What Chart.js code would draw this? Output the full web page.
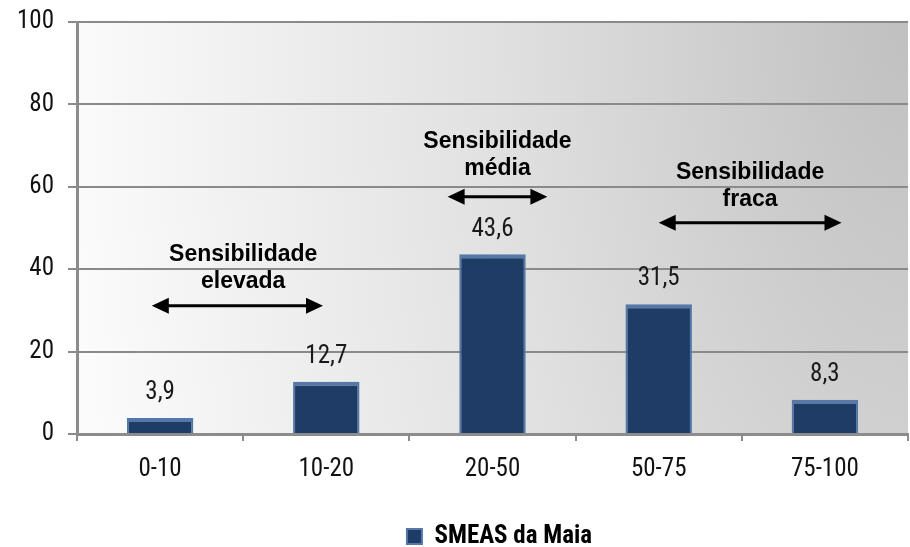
<!DOCTYPE html>
<html>
<head>
<meta charset="utf-8">
<script src="https://cdn.jsdelivr.net/npm/chart.js@4.4.1/dist/chart.umd.min.js"></script>
<style>
  html, body { margin: 0; padding: 0; background: #fff; }
  #wrap { width: 910px; height: 547px; }
</style>
</head>
<body>
<div id="wrap"><canvas id="chart"></canvas></div>
<script>
// categories and values (percent)
const categories = ['0-10', '10-20', '20-50', '50-75', '75-100'];
const seriesName = 'SMEAS da Maia';
const values = [3.9, 12.7, 43.6, 31.5, 8.3];
const yTicks = [0, 20, 40, 60, 80, 100];

// sensitivity notes, in category index / value units
const noteLines = [['Sensibilidade', 'elevada'], ['Sensibilidade', 'média'], ['Sensibilidade', 'fraca']];
const noteX     = [0.5, 2.03, 3.55];
const noteY     = [43.5, 70.9, 63.4];
const arrowFrom = [-0.05, 1.73, 3.0];
const arrowTo   = [0.98, 2.33, 4.10];
const arrowY    = [31.1, 57.6, 51.3];

const NARROW = '"Liberation Sans Narrow", "Arial Narrow", "Roboto Condensed", sans-serif';
const BAR_COLOR = '#1f3c66';

// gray corner (top right) fading to white, stretched vertically
const plotBackground = {
  id: 'plotBackground',
  beforeDraw(chart) {
    const { ctx, chartArea: a } = chart;
    ctx.save();
    ctx.fillStyle = '#fafafa';
    ctx.fillRect(a.left, a.top, a.width, a.height);
    ctx.beginPath();
    ctx.rect(a.left, a.top, a.width, a.height);
    ctx.clip();
    ctx.translate(a.right, a.top);
    ctx.scale(1, 2);
    const g = ctx.createRadialGradient(0, 0, 0, 0, 0, 840);
    g.addColorStop(0, '#c0c0c0');
    g.addColorStop(0.5, '#e1e1e1');
    g.addColorStop(1, '#fbfbfb');
    ctx.fillStyle = g;
    ctx.fillRect(-a.width, 0, a.width, a.height / 2);
    ctx.restore();
  }
};

// value labels above the bars
const valueLabels = {
  id: 'valueLabels',
  afterDatasetsDraw(chart) {
    const { ctx } = chart;
    const meta = chart.getDatasetMeta(0);
    ctx.save();
    ctx.font = '25px ' + NARROW;
    ctx.fillStyle = '#1a1a1a';
    ctx.textAlign = 'center';
    ctx.textBaseline = 'middle';
    meta.data.forEach((bar, i) => {
      ctx.fillText(values[i].toFixed(1).replace('.', ','), bar.x, bar.y - 25);
    });
    ctx.restore();
  }
};

function arrowHead(ctx, x, y, dir) {
  ctx.beginPath();
  ctx.moveTo(x, y);
  ctx.lineTo(x - dir * 17, y - 8);
  ctx.lineTo(x - dir * 17, y + 8);
  ctx.closePath();
  ctx.fill();
}

// "Sensibilidade ..." notes with double arrows
const notes = {
  id: 'notes',
  afterDatasetsDraw(chart) {
    const { ctx, scales: { x, y } } = chart;
    ctx.save();
    ctx.fillStyle = '#000';
    ctx.strokeStyle = '#000';
    ctx.font = 'bold 23px "Liberation Sans", Arial, sans-serif';
    ctx.textAlign = 'center';
    ctx.textBaseline = 'middle';
    noteLines.forEach((lines, i) => {
      const cx = x.getPixelForValue(noteX[i]);
      const cy = y.getPixelForValue(noteY[i]);
      lines.forEach((t, j) => ctx.fillText(t, cx, cy + j * 27));

      const x0 = x.getPixelForValue(arrowFrom[i]);
      const x1 = x.getPixelForValue(arrowTo[i]);
      const ay = y.getPixelForValue(arrowY[i]);
      ctx.lineWidth = 3;
      ctx.beginPath();
      ctx.moveTo(x0 + 10, ay);
      ctx.lineTo(x1 - 10, ay);
      ctx.stroke();
      arrowHead(ctx, x0, ay, -1);
      arrowHead(ctx, x1, ay, 1);
    });
    ctx.restore();
  }
};

// legend sits under the plot area, a bit lower than Chart.js puts it
const legendShift = {
  id: 'legendShift',
  afterLayout(chart) {
    const lg = chart.legend;
    const dx = (chart.chartArea.left + chart.chartArea.right) / 2 - (lg.left + lg.right) / 2 + 7;
    lg.left += dx;
    lg.right += dx;
    lg.top += 12;
    lg.bottom += 12;
  }
};

new Chart(document.getElementById('chart'), {
  type: 'bar',
  data: {
    labels: categories,
    datasets: [{
      label: seriesName,
      data: values,
      backgroundColor: BAR_COLOR,
      borderColor: '#5479a8',
      borderWidth: { top: 4, left: 2, right: 2, bottom: 0 },
      borderSkipped: 'bottom',
      categoryPercentage: 1,
      barPercentage: 0.4
    }]
  },
  options: {
    responsive: true,
    maintainAspectRatio: false,
    animation: false,
    layout: { padding: { top: 22, right: 2, left: 0, bottom: 0 } },
    plugins: {
      tooltip: { enabled: false },
      legend: {
        position: 'bottom',
        labels: {
          color: '#000',
          font: { family: NARROW, size: 25, weight: 'bold', lineHeight: 1 },
          boxWidth: 15,
          boxHeight: 15,
          padding: 0
        }
      }
    },
    scales: {
      x: {
        offset: true,
        afterFit(axis) { axis.height = 78; },
        grid: {
          offset: true,
          drawOnChartArea: false,
          drawTicks: true,
          tickLength: 7,
          color: '#8c8c8c',
          lineWidth: 2
        },
        border: { color: '#8c8c8c', width: 3 },
        ticks: {
          color: '#111',
          padding: 14,
          font: { family: NARROW, size: 25 }
        }
      },
      y: {
        min: 0,
        max: 100,
        afterFit(axis) {
          axis.width = 77;
          axis.paddingTop = 0;
        },
        afterBuildTicks(axis) { axis.ticks = yTicks.map(v => ({ value: v })); },
        grid: {
          color: '#8a8a8a',
          lineWidth: 2,
          tickLength: 9
        },
        border: { color: '#8c8c8c', width: 3 },
        ticks: {
          color: '#111',
          padding: 14,
          font: { family: NARROW, size: 25 }
        }
      }
    }
  },
  plugins: [plotBackground, valueLabels, notes, legendShift]
});
</script>
</body>
</html>
